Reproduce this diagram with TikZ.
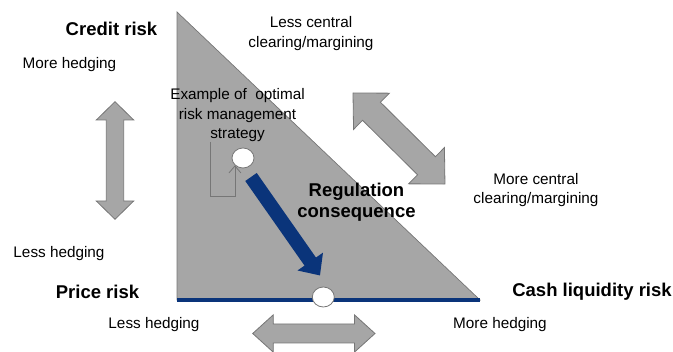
\documentclass[tikz,border=0pt]{standalone}
\usepackage{fontspec}
\setmainfont{Liberation Sans}
\usetikzlibrary{arrows.meta,shapes.geometric}

\definecolor{trigray}{RGB}{166,166,166}
\definecolor{edgegray}{RGB}{118,118,118}
\definecolor{regblue}{RGB}{10,52,122}

\begin{document}
\begin{tikzpicture}[x=1pt,y=-1pt,
    note/.style={font=\fontsize{15.3}{19.5}\selectfont, align=center, anchor=base, inner sep=0pt},
    riskname/.style={font=\fontsize{18.5}{21}\selectfont\bfseries, align=center, anchor=base, inner sep=0pt},
    blockarrow/.style={fill=trigray, draw=edgegray, line width=0.8pt, line join=miter},
    spot/.style={ellipse, draw=edgegray, fill=white, line width=0.8pt, minimum width=22pt, minimum height=20pt, inner sep=0pt},
    pointer/.style={draw=edgegray, line width=0.8pt, -{Straight Barb[length=7pt,width=12pt]}}]

    % Fix the page to the size of the slide
    \useasboundingbox (0,0) rectangle (673,352);

    % Corners of the risk triangle
    \coordinate (apex) at (177,12);
    \coordinate (baseleft) at (177,300);
    \coordinate (baseright) at (480,300);

    % Triangle with blue base
    \draw[fill=trigray, draw=edgegray, line width=0.7pt] (apex) -- (baseleft) -- (baseright) -- cycle;
    \draw[regblue, line width=3.5pt] (baseleft) -- (baseright);

    % Two positions of the strategy
    \node[spot] (optimum) at (243,158) {};
    \node[spot] (outcome) at (323.3,297) {};

    % Grey double arrows: x/y of one tip, angle, length, head length, head and shaft half widths
    \foreach \px/\py/\ang/\len/\hl/\hh/\sh in {115/101.7/-90/117.6/18.3/18.7/8.7,
                                               252.7/333.5/0/122.3/20.6/18.7/9.5,
                                               353/93/-44.7/129.4/26/25.5/12.7}
    {
        \begin{scope}[shift={(\px,\py)}, rotate=\ang]
            \draw[blockarrow] (0,0) -- (\hl,\hh) -- (\hl,\sh) -- (\len-\hl,\sh) -- (\len-\hl,\hh)
                -- (\len,0) -- (\len-\hl,-\hh) -- (\len-\hl,-\sh) -- (\hl,-\sh) -- (\hl,-\hh) -- cycle;
        \end{scope}
    }

    % Regulation shift
    \coordinate (shiftfrom) at (251,177);
    \coordinate (shiftto) at (320,275.5);
    \draw[regblue, line width=14pt, -{Triangle[length=17pt,width=30pt]}] (shiftfrom) -- (shiftto);

    % Corner labels
    \node[riskname] (credit) at (111.5,36) {Credit risk};
    \node[riskname] (price) at (97.5,299) {Price risk};
    \node[riskname] (cash) at (592,297) {Cash liquidity risk};

    % Hedging and clearing labels (multi-line: base is the last line)
    \node[note] (morehedgeup) at (69.5,69) {More hedging};
    \node[note] (lesshedgeup) at (59,258) {Less hedging};
    \node[note] (lesshedgelow) at (154,329) {Less hedging};
    \node[note] (morehedgelow) at (500,329) {More hedging};
    \node[note] (lesscentral) at (311,47.5) {Less central\\clearing/margining};
    \node[note] (morecentral) at (536,204) {More central\\clearing/margining};

    % Strategy text and its pointer
    \node[note] (example) at (237.5,139) {Example of~ optimal\\risk management\\strategy};
    \coordinate (exfoot) at (210,142);
    \coordinate (exbend) at (210,196);
    \draw[pointer] (exfoot) -- (exbend) -| (optimum.south west);

    \node[riskname] (regulation) at (356.5,218) {Regulation\\consequence};
\end{tikzpicture}
\end{document}
